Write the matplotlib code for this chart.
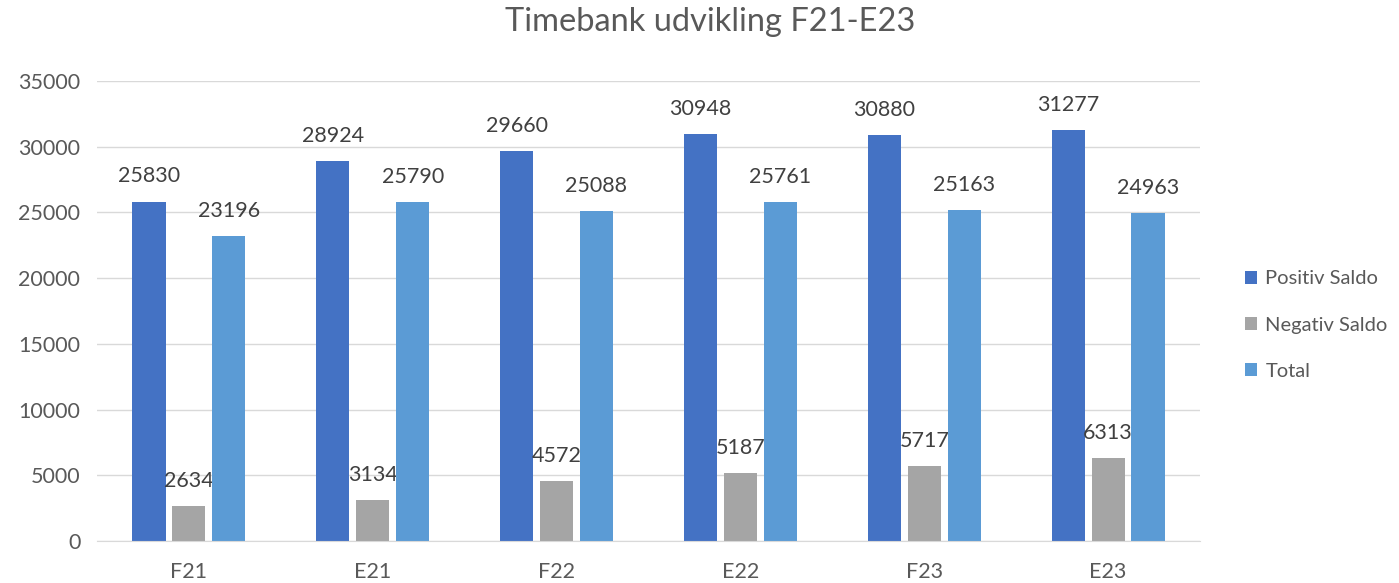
import matplotlib
matplotlib.use("Agg")
import matplotlib.pyplot as plt
import numpy as np

categories = ["F21", "E21", "F22", "E22", "F23", "E23"]
positiv = [25830, 28924, 29660, 30948, 30880, 31277]
negativ = [2634, 3134, 4572, 5187, 5717, 6313]
total = [23196, 25790, 25088, 25761, 25163, 24963]
series_names = ["Positiv Saldo", "Negativ Saldo", "Total"]
colors = ["#4472C4", "#A5A5A5", "#5B9BD5"]

plt.rcParams['font.family'] = ['Lato', 'DejaVu Sans']

fig = plt.figure(figsize=(13.99, 5.83), dpi=100)
ax = fig.add_axes([97/1399, 42/583, 1103/1399, 460/583])

x = np.arange(len(categories))
w = 0.18
step = 0.217
handles = []
for i, (vals, name, c) in enumerate(zip([positiv, negativ, total], series_names, colors)):
    xs = x + (i - 1) * step
    b = ax.bar(xs, vals, width=w, color=c, label=name, zorder=3)
    handles.append(b)
    for xi, v in zip(xs, vals):
        ax.annotate(str(v), (xi, v), xytext=(0, 11), textcoords="offset points",
                    ha="center", va="bottom", fontsize=15.5, color="#404040")

ax.set_xlim(-0.5, len(categories) - 0.5)
ax.set_ylim(0, 35000)
ax.set_yticks(np.arange(0, 35001, 5000))
ax.set_xticks(x)
ax.set_xticklabels(categories)
ax.tick_params(axis="y", length=0, labelsize=15.5, colors="#595959", pad=12)
ax.tick_params(axis="x", length=0, labelsize=15.5, colors="#595959", pad=15)
ax.grid(axis="y", color="#D9D9D9", linewidth=1, zorder=0)
for s in ["top", "right", "left"]:
    ax.spines[s].set_visible(False)
ax.spines["bottom"].set_color("#D9D9D9")
ax.spines["bottom"].set_zorder(4)

fig.text(710/1399, 1 - 22/583, "Timebank udvikling F21-E23", ha="center", va="center",
         fontsize=23.5, color="#595959")

leg = fig.legend(handles=handles, labels=series_names, loc="center left",
                 bbox_to_anchor=(1227/1399, 1 - 325/583), frameon=False, fontsize=14.5,
                 handlelength=0.6, handleheight=0.6, handletextpad=0.4, labelspacing=1.45,
                 labelcolor="#595959")

fig.savefig("out.png", dpi=100)
